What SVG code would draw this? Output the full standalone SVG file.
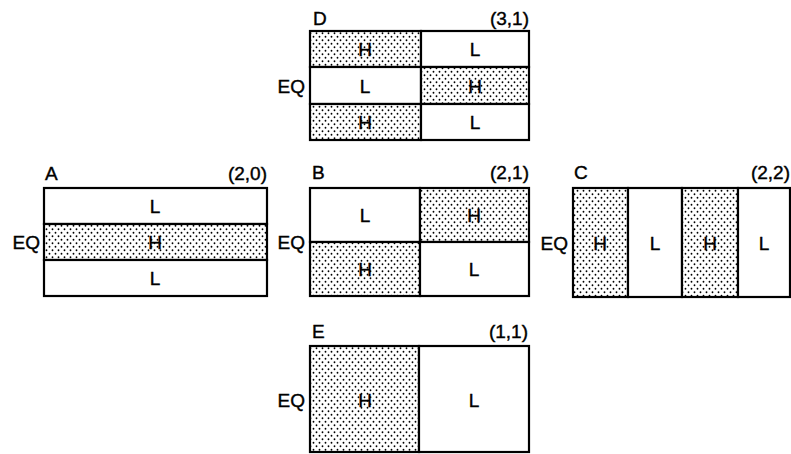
<svg xmlns="http://www.w3.org/2000/svg" width="791" height="454" viewBox="0 0 791 454">
<defs>
<pattern id="dots" width="6" height="7" patternUnits="userSpaceOnUse">
<rect width="6" height="7" fill="#fff"/>
<circle cx="1.5" cy="1.75" r="0.9" fill="#000"/>
<circle cx="4.5" cy="5.25" r="0.9" fill="#000"/>
</pattern>
</defs>
<style>
.bx{fill:#fff;stroke:#000;stroke-width:2.2}
.hi{fill:url(#dots);stroke:#000;stroke-width:2.2}
text{font-family:"Liberation Sans",Arial,sans-serif;font-size:19px;fill:#000;stroke:#000;stroke-width:0.4}
.c{text-anchor:middle}
.r{text-anchor:end}
</style>
<rect width="791" height="454" fill="#fff"/>

<g id="panelD">
<rect class="hi" x="310" y="31" width="111" height="36"/>
<rect class="bx" x="421" y="31" width="108" height="36"/>
<rect class="bx" x="310" y="67" width="111" height="37"/>
<rect class="hi" x="421" y="67" width="108" height="37"/>
<rect class="hi" x="310" y="104" width="111" height="36"/>
<rect class="bx" x="421" y="104" width="108" height="36"/>
<text x="313" y="25">D</text>
<text class="r" x="529" y="25">(3,1)</text>
<text class="r" x="305" y="93">EQ</text>
<text class="c" x="365" y="56">H</text>
<text class="c" x="475" y="56">L</text>
<text class="c" x="365" y="93">L</text>
<text class="c" x="475" y="93">H</text>
<text class="c" x="365" y="129">H</text>
<text class="c" x="475" y="129">L</text>
</g>

<g id="panelA">
<rect class="bx" x="44" y="188" width="223" height="36"/>
<rect class="hi" x="44" y="224" width="223" height="36"/>
<rect class="bx" x="44" y="260" width="223" height="36"/>
<text x="45" y="180">A</text>
<text class="r" x="267" y="180">(2,0)</text>
<text class="r" x="40" y="249">EQ</text>
<text class="c" x="155" y="213">L</text>
<text class="c" x="155" y="249">H</text>
<text class="c" x="155" y="285">L</text>
</g>

<g id="panelB">
<rect class="bx" x="310" y="188" width="110" height="54"/>
<rect class="hi" x="420" y="188" width="109" height="54"/>
<rect class="hi" x="310" y="242" width="110" height="54"/>
<rect class="bx" x="420" y="242" width="109" height="54"/>
<text x="312" y="179">B</text>
<text class="r" x="529" y="179">(2,1)</text>
<text class="r" x="305" y="249">EQ</text>
<text class="c" x="365" y="222">L</text>
<text class="c" x="474" y="222">H</text>
<text class="c" x="365" y="276">H</text>
<text class="c" x="474" y="276">L</text>
</g>

<g id="panelC">
<rect class="hi" x="573" y="188" width="55" height="109"/>
<rect class="bx" x="628" y="188" width="54" height="109"/>
<rect class="hi" x="682" y="188" width="56" height="109"/>
<rect class="bx" x="738" y="188" width="52" height="109"/>
<text x="574" y="179">C</text>
<text class="r" x="790" y="179">(2,2)</text>
<text class="r" x="568" y="250">EQ</text>
<text class="c" x="600" y="250">H</text>
<text class="c" x="655" y="250">L</text>
<text class="c" x="710" y="250">H</text>
<text class="c" x="764" y="250">L</text>
</g>

<g id="panelE">
<rect class="hi" x="310" y="346" width="109" height="106"/>
<rect class="bx" x="419" y="346" width="110" height="106"/>
<text x="312" y="338">E</text>
<text class="r" x="528" y="338">(1,1)</text>
<text class="r" x="305" y="407">EQ</text>
<text class="c" x="365" y="407">H</text>
<text class="c" x="474" y="407">L</text>
</g>
</svg>
